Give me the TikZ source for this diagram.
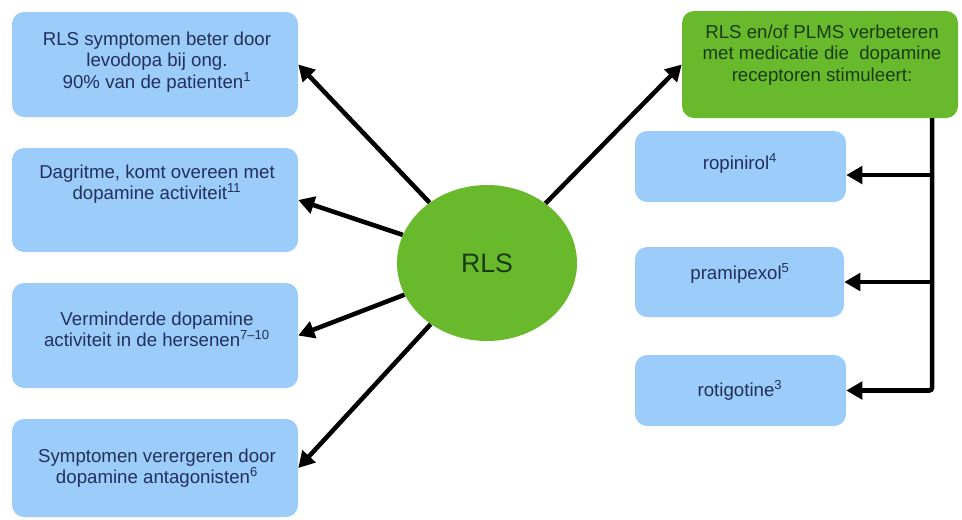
\documentclass[tikz,border=0pt]{standalone}
\usepackage{fontspec}
\setmainfont{Liberation Sans}
\usetikzlibrary{arrows.meta,shapes.geometric}
\definecolor{boxblue}{RGB}{155,204,250}
\definecolor{leaf}{RGB}{104,186,44}
\definecolor{navy}{RGB}{35,48,90}
\definecolor{darkleaf}{RGB}{25,60,20}
\tikzset{
  bluebox/.style={draw=none, fill=boxblue, rounded corners=9pt, inner sep=0pt},
  greenbox/.style={draw=none, fill=leaf, rounded corners=9pt, inner sep=0pt},
  txt/.style={align=center, font=\fontsize{14}{16}\selectfont, text=navy, inner sep=0pt},
  gtxt/.style={align=center, font=\fontsize{14}{16}\selectfont, text=darkleaf, inner sep=0pt},
  arr/.style={line width=3.4pt, -{Triangle[length=12pt,width=13pt]}, black},
  bus/.style={line width=3.4pt, black}
}
\begin{document}
\begin{tikzpicture}[x=0.75pt,y=-0.75pt]
\useasboundingbox (0,0) rectangle (962,519);
% left boxes
\node[bluebox, minimum width=214.5pt, minimum height=78.75pt] (b1) at (155,64.5) {};
\node[bluebox, minimum width=214.5pt, minimum height=78pt] (b2) at (155,200) {};
\node[bluebox, minimum width=214.5pt, minimum height=78.75pt] (b3) at (155,335.5) {};
\node[bluebox, minimum width=214.5pt, minimum height=73.5pt] (b4) at (155,468) {};
\node[txt] (b1t) at (157,62) {RLS symptomen beter door\\levodopa bij ong.\\90\% van de patienten\textsuperscript{1}};
\node[txt] (b2t) at (157,184) {Dagritme, komt overeen met\\dopamine activiteit\textsuperscript{11}};
\node[txt] (b3t) at (157,329) {Verminderde dopamine\\activiteit in de hersenen\textsuperscript{7--10}};
\node[txt] (b4t) at (157,468) {Symptomen verergeren door\\dopamine antagonisten\textsuperscript{6}};
% centre
\node[ellipse, fill=leaf, minimum width=135pt, minimum height=117pt, inner sep=0pt] (rls) at (487,263) {};
\node[gtxt, font=\fontsize{20}{22}\selectfont] (rlst) at (487,263) {RLS};
% green box
\node[greenbox, minimum width=207pt, minimum height=80.25pt] (g) at (820,64.5) {};
\node[gtxt] (gt) at (822,55) {RLS en/of PLMS verbeteren\\met medicatie die\ \ dopamine\\receptoren stimuleert:};
% right boxes
\node[bluebox, minimum width=158.25pt, minimum height=53.25pt] (r1) at (740.5,166.5) {};
\node[bluebox, minimum width=156.75pt, minimum height=52.5pt] (r2) at (739.5,282) {};
\node[bluebox, minimum width=158.25pt, minimum height=53.25pt] (r3) at (740.5,390.5) {};
\node[txt] (r1t) at (740,163) {ropinirol\textsuperscript{4}};
\node[txt] (r2t) at (740,273) {pramipexol\textsuperscript{5}};
\node[txt] (r3t) at (740,390) {rotigotine\textsuperscript{3}};
% arrows from RLS
\draw[arr] (rls) -- (b1.east);
\draw[arr] (rls) -- (b2.east);
\draw[arr] (rls) -- (b3.east);
\draw[arr] (rls) -- (b4.east);
\draw[arr] (rls) -- (g.west);
% bus on the right
\coordinate (bt) at (932,118);
\coordinate (r1e) at ([yshift=-6.4pt]r1.east);
\draw[arr, rounded corners=2pt] (bt) |- (r3.east);
\draw[arr] (bt |- r1e) -- (r1e);
\draw[arr] (bt |- r2.east) -- (r2.east);
\end{tikzpicture}
\end{document}
